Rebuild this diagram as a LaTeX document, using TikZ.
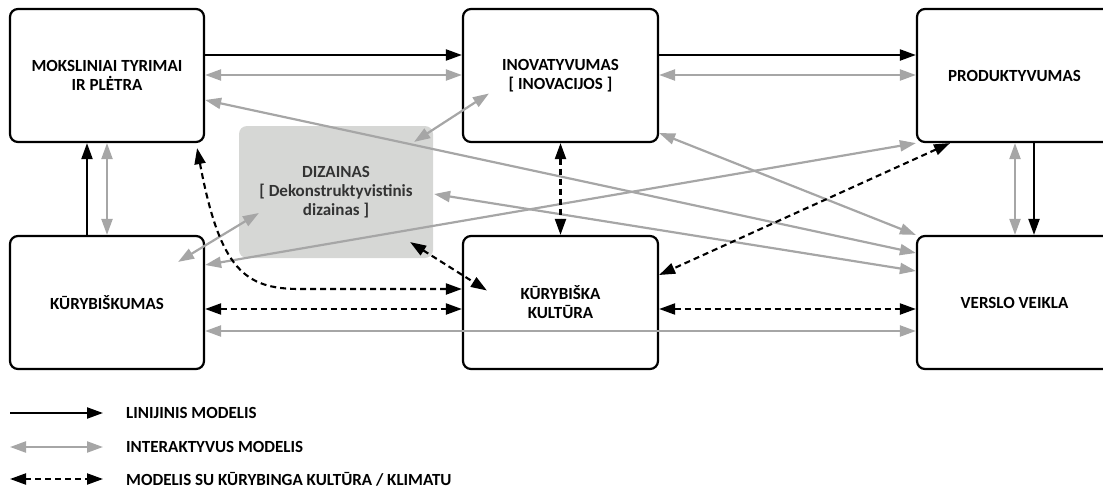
\documentclass[tikz,border=0pt]{standalone}
\usepackage{fontspec}
\setmainfont{Carlito}
\usetikzlibrary{arrows.meta,calc}
\definecolor{intgray}{HTML}{A6A6A6}
\definecolor{dizgray}{HTML}{D6D7D5}
\begin{document}
\begin{tikzpicture}[x=1pt,y=-1pt,font=\bfseries\fontsize{17}{19}\selectfont,
box/.style={draw,line width=2.2pt,rounded corners=8pt,fill=white,minimum width=195pt,minimum height=133pt,align=center,inner sep=0pt},
lin/.style={line width=2.1pt,-{Triangle[length=16pt,width=11pt]}},
int/.style={intgray,line width=2.2pt,{Triangle[length=16pt,width=11pt]}-{Triangle[length=16pt,width=11pt]}},
klim/.style={line width=2.1pt,dash pattern=on 6pt off 4pt,{Triangle[length=16pt,width=11pt]}-{Triangle[length=16pt,width=11pt]}},
legtext/.style={anchor=west,inner sep=0pt}]
\useasboundingbox(0,0)rectangle(1103,490);
\node[box,draw=none,fill=dizgray,text=black!80,minimum width=194pt,minimum height=132pt](diz)at(336,192){DIZAINAS\\{}[ Dekonstruktyvistinis\\dizainas ]};
\node[box,minimum width=194pt](mtp)at(107,75.5){MOKSLINIAI TYRIMAI\\IR PLĖTRA};
\node[box](inov)at(560.5,75.5){INOVATYVUMAS\\{}[ INOVACIJOS ]};
\node[box](prod)at(1014.5,75.5){PRODUKTYVUMAS};
\node[box,minimum width=194pt](kur)at(107,302.5){KŪRYBIŠKUMAS};
\node[box](kk)at(560.5,302.5){KŪRYBIŠKA\\KULTŪRA};
\node[box](vv)at(1014.5,302.5){VERSLO VEIKLA};
\draw[lin](mtp.east|-0,55)--(inov.west|-0,55);
\draw[lin](inov.east|-0,55)--(prod.west|-0,55);
\draw[lin](prod.south-|1034,0)--(vv.north-|1034,0);
\draw[lin](kur.north-|87,0)--(mtp.south-|87,0);
\draw[int](mtp.east|-0,75)--(inov.west|-0,75);
\draw[int](inov.east|-0,75)--(prod.west|-0,75);
\draw[int](mtp.south-|107,0)--(kur.north-|107,0);
\draw[int](prod.south-|1015,0)--(vv.north-|1015,0);
\draw[int](mtp.east|-0,100)--(vv.west|-0,253);
\draw[int](diz.east|-0,194)--(vv.west|-0,271);
\draw[int](kur.east|-0,265)--(prod.south west);
\draw[int](inov.east|-0,133)--(vv.north west);
\draw[int](kur.east|-0,331)--(vv.west|-0,331);
\draw[int]($(kur.north east)+(-27,27)$)--($(diz.west)+(21,21)$);
\draw[int]($(diz.north east)+(-20,17)$)--($(inov.west)+(27,18)$);
\draw[klim]($(mtp.south east)+(-8,5)$)..controls(220,270)and(245,289)..(300,289)--(kk.west|-0,289);
\draw[klim](kur.east|-0,309)--(kk.west|-0,309);
\draw[klim](kk.east|-0,309)--(vv.west|-0,309);
\draw[klim](inov.south)--(kk.north);
\draw[klim](prod.south-|950,0)--(kk.east|-0,275);
\draw[klim]($(diz.south east)+(-24,-17)$)--($(kk.west)+(25,-12)$);
\node[legtext](l1)at(126,413){LINIJINIS MODELIS};
\node[legtext](l2)at(126,447){INTERAKTYVUS MODELIS};
\node[legtext](l3)at(126,479){MODELIS SU KŪRYBINGA KULTŪRA / KLIMATU};
\draw[lin](10,413)--(103,413);
\draw[int](10,447)--(103,447);
\draw[klim](10,479)--(103,479);
\end{tikzpicture}
\end{document}
